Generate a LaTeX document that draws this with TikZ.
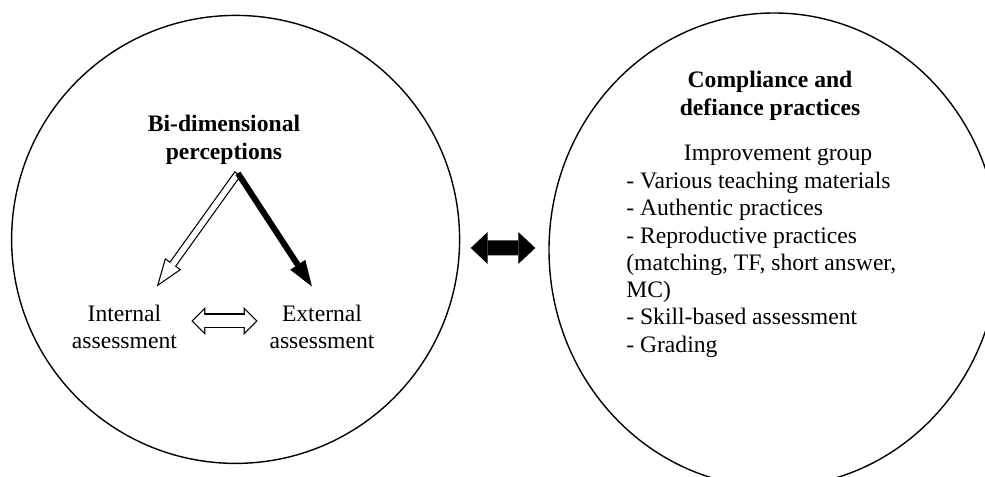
\documentclass[tikz,border=0pt]{standalone}
\usepackage{fontspec}
\setmainfont{Liberation Serif}
\usetikzlibrary{arrows.meta,shapes.geometric,calc}
\tikzset{
   txt/.style   = {inner sep=0pt, align=center, font=\fontsize{16.8}{19.4}\selectfont},
   ring/.style  = {draw, line width=0.35mm, inner sep=0pt},
   fatarrow/.style  = {-{Triangle[length=6.5mm,width=4.5mm,line width=0pt]}, line width=1.5mm},
   hollowout/.style = {-{Triangle[length=7mm,width=5mm,line width=0pt]}, line width=2mm},
   hollowin/.style  = {-{Triangle[length=5.81mm,width=4.15mm,line width=0pt]}, line width=1.4mm, white,
                       shorten <=0.3mm, shorten >=0.89mm},
   dblout/.style = {{Triangle[length=3.5mm,width=7mm,line width=0pt]}-{Triangle[length=3.5mm,width=7mm,line width=0pt]},
                    line width=3.75mm},
   dblin/.style  = {{Triangle[length=2.78mm,width=5.56mm,line width=0pt]}-{Triangle[length=2.78mm,width=5.56mm,line width=0pt]},
                    line width=3.15mm, white, shorten <=0.42mm, shorten >=0.42mm},
   fatdbl/.style = {{Triangle[length=4.25mm,width=8mm,line width=0pt]}-{Triangle[length=4.25mm,width=8mm,line width=0pt]},
                    line width=3.75mm},
}
\begin{document}
\begin{tikzpicture}

      \path[use as bounding box, clip] (0mm,0mm) rectangle (246.25mm,119.25mm);

      \node[ring, circle, minimum size=112mm] (left) at (58.9mm,59.4mm) {};
      \node[ring, ellipse, minimum width=112.5mm, minimum height=118.5mm] (right) at (193.5mm,56.75mm) {};

      \node[txt, font=\fontsize{16.8}{19.9}\selectfont\bfseries] (bidim) at (56mm,84.25mm) {Bi-dimensional\\perceptions};
      \node[txt] (internal) at (31.1mm,37.6mm) {Internal\\assessment};
      \node[txt] (external) at (80.5mm,37.6mm) {External\\assessment};

      \node[txt, font=\fontsize{16.8}{19.9}\selectfont\bfseries] (practices) at (192.5mm,95.4mm) {Compliance and\\defiance practices};
      \node[txt] (group) at (194.5mm,80.5mm) {Improvement group};
      \node[txt, align=left, anchor=north west] (items) at (156.5mm,76.3mm)
         {- Various teaching materials\\- Authentic practices\\- Reproductive practices\\(matching, TF, short answer,\\MC)\\- Skill-based assessment\\- Grading};

      \coordinate (apex)  at ([xshift=3.5mm,yshift=-2.1mm]bidim.south);
      \coordinate (intip) at ([xshift=8.1mm,yshift=4.45mm]internal.north);
      \coordinate (extip) at ([xshift=-2.5mm,yshift=4.45mm]external.north);

      \draw[hollowout] (apex) -- (intip);
      \draw[hollowin]  (apex) -- (intip);
      \draw[fatarrow]  (apex) -- (extip);

      \draw[dblout] ([xshift=3.55mm,yshift=1.4mm]internal.east) -- ([xshift=-2.9mm,yshift=1.4mm]external.west);
      \draw[dblin]  ([xshift=3.55mm,yshift=1.4mm]internal.east) -- ([xshift=-2.9mm,yshift=1.4mm]external.west);
      \draw[fatdbl] ([xshift=2.6mm,yshift=-2.15mm]left.east) -- ([xshift=-3.25mm,yshift=0.5mm]right.west);
   \end{tikzpicture}
\end{document}
